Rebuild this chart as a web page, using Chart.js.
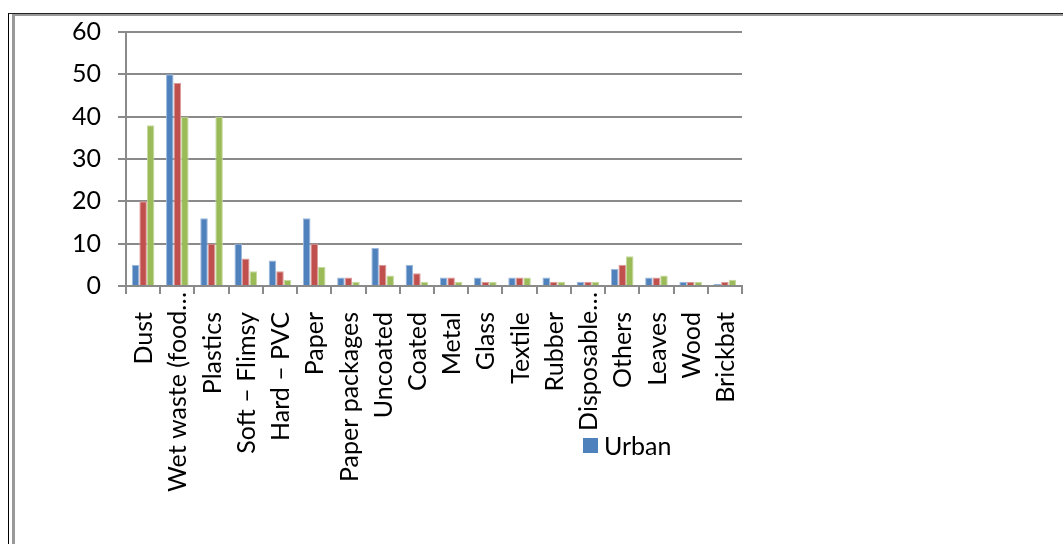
<!DOCTYPE html>
<html>
<head>
<meta charset="utf-8">
<script src="https://cdn.jsdelivr.net/npm/chart.js@4"></script>
<style>
  html, body { margin: 0; padding: 0; background: #fff; }
  #wrap { position: relative; width: 1063px; height: 544px; overflow: hidden; }
  #frameOuter { position: absolute; left: 8px; top: 13px; right: -10px; bottom: -10px;
                border-left: 1px solid #000; border-top: 1px solid #222; }
  #frameInner { position: absolute; left: 12px; top: 14px; right: -10px; bottom: -10px;
                border-left: 3px solid #999; border-top: 2px solid #999; }
  #chartBox { position: absolute; left: 0; top: 0; width: 1063px; height: 544px; }
  #legend { position: absolute; left: 583px; top: 430px; font-family: Lato, sans-serif;
            font-size: 25px; color: #000; display: flex; align-items: center; }
  #legend .sw { width: 15px; height: 15px; background: #4F81BD; margin-right: 6px; }
</style>
</head>
<body>
<div id="wrap">
  <div id="frameOuter"></div>
  <div id="frameInner"></div>
  <div id="chartBox"><canvas id="c"></canvas></div>
  <div id="legend"><span class="sw"></span><span id="legendText"></span></div>
</div>
<script>
// Waste composition by category (%)
const categories = ['Dust', 'Wet waste (food…', 'Plastics', 'Soft – Flimsy', 'Hard – PVC', 'Paper',
  'Paper packages', 'Uncoated', 'Coated', 'Metal', 'Glass', 'Textile', 'Rubber', 'Disposable…',
  'Others', 'Leaves', 'Wood', 'Brickbat'];
const seriesNames = ['Urban', 'Semi-urban', 'Rural'];
const urban     = [5, 50, 16, 10, 6, 16, 2, 9, 5, 2, 2, 2, 2, 1, 4, 2, 1, 0.5];
const semiUrban = [20, 48, 10, 6.5, 3.5, 10, 2, 5, 3, 2, 1, 2, 1, 1, 5, 2, 1, 1];
const rural     = [38, 40, 40, 3.5, 1.5, 4.5, 1, 2.5, 1, 1, 1, 2, 1, 1, 7, 2.5, 1, 1.5];
const yTicks    = [0, 10, 20, 30, 40, 50, 60];

const fills   = ['#4F81BD', '#C0504D', '#9BBB59'];
const edges   = ['#9db8dc', '#dc9b99', '#c6da9f'];
const FONT = 'Lato, sans-serif';
const FONT_SIZE = 25;

document.getElementById('legendText').textContent = seriesNames[0];

// Vertical category labels; shortened labels sit closer to the axis
const xLabelPlugin = {
  id: 'xLabels',
  afterDraw(chart) {
    const x = chart.scales.x;
    const ctx = chart.ctx;
    ctx.save();
    ctx.font = FONT_SIZE + 'px ' + FONT;
    ctx.fillStyle = '#000';
    ctx.textAlign = 'right';
    ctx.textBaseline = 'middle';
    categories.forEach((lab, i) => {
      const px = x.getPixelForTick(i);
      const py = x.top + (lab.endsWith('…') ? 6 : 26);
      ctx.save();
      ctx.translate(px + 1, py);
      ctx.rotate(-Math.PI / 2);
      ctx.fillText(lab, 0, 0);
      ctx.restore();
    });
    ctx.restore();
  }
};

new Chart(document.getElementById('c'), {
  type: 'bar',
  data: {
    labels: categories,
    datasets: [urban, semiUrban, rural].map((d, i) => ({
      label: seriesNames[i],
      data: d,
      backgroundColor: fills[i],
      borderColor: edges[i],
      borderWidth: 1,
      borderSkipped: 'bottom',
      categoryPercentage: 0.66,
      barPercentage: 1.0
    }))
  },
  options: {
    responsive: true,
    maintainAspectRatio: false,
    animation: false,
    layout: { padding: { left: 0, right: 321, top: 31, bottom: 0 } },
    plugins: { legend: { display: false }, tooltip: { enabled: false } },
    scales: {
      x: {
        offset: true,
        grid: { display: true, drawOnChartArea: false, drawTicks: true, tickLength: 8,
                color: '#8a8a8a', lineWidth: 2, offset: true },
        border: { display: true, color: '#8a8a8a', width: 2 },
        ticks: { display: false },
        afterFit(scale) { scale.height = 544 - 286; }
      },
      y: {
        min: 0, max: 60,
        afterBuildTicks(scale) { scale.ticks = yTicks.map(v => ({ value: v })); },
        grid: { color: '#8a8a8a', lineWidth: 2, tickLength: 8, drawTicks: true },
        border: { display: true, color: '#8a8a8a', width: 2 },
        ticks: { color: '#000', font: { family: FONT, size: FONT_SIZE }, padding: 17 },
        afterFit(scale) { scale.width = 126; }
      }
    }
  },
  plugins: [xLabelPlugin]
});
</script>
</body>
</html>
